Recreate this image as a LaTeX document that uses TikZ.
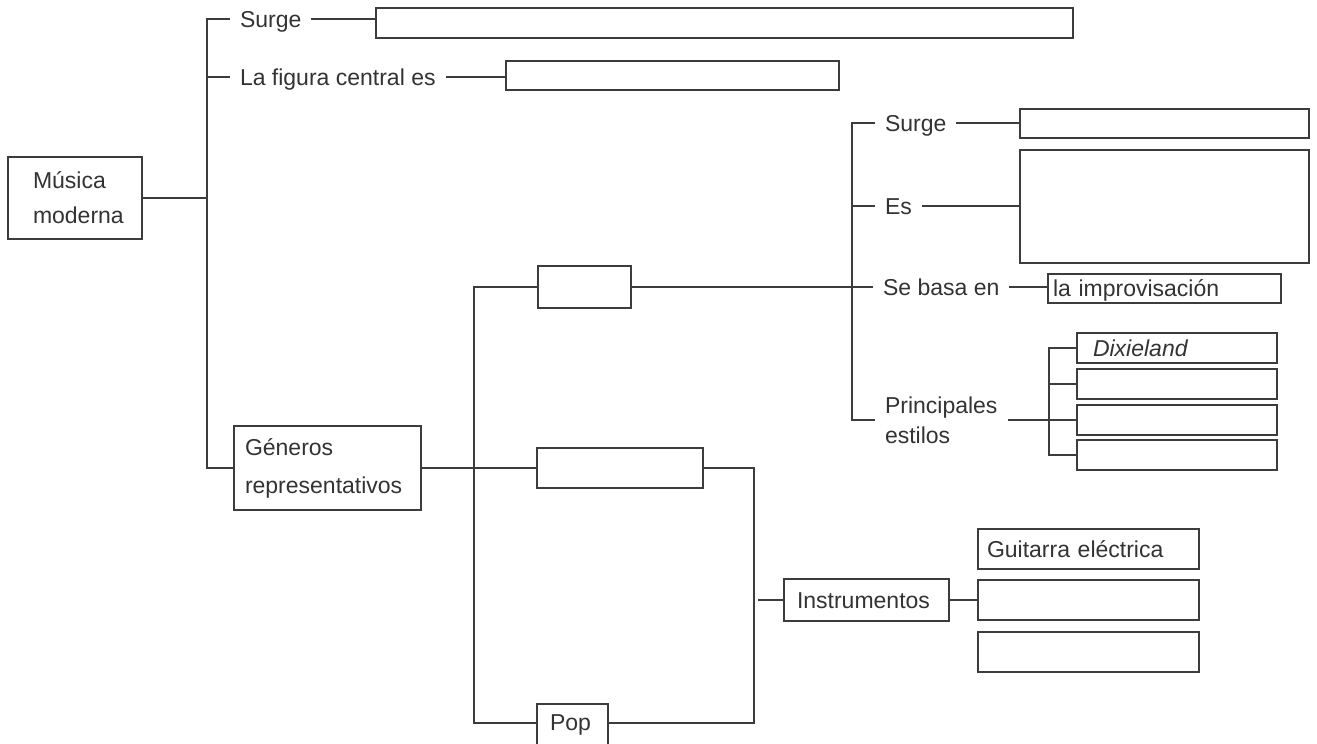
\documentclass[tikz,border=0pt]{standalone}
\usepackage{fontspec}
\setmainfont{Liberation Sans}
\definecolor{lc}{HTML}{3C3C3C}
\definecolor{tc}{HTML}{333333}
\tikzset{
  ln/.style={draw=lc, line width=1.4pt},
  emptybox/.style={draw=lc, line width=1.4pt, rectangle, inner sep=0pt, outer sep=0pt, anchor=north west},
  tbox/.style={emptybox, text=tc, align=left, text height=16.5pt, text depth=0pt},
  mbox/.style={emptybox, text=tc, align=left},
  lbl/.style={inner xsep=10pt, inner ysep=0pt, outer sep=0pt, text=tc, text height=16.5pt, text depth=0pt, anchor=west},
  lbltwo/.style={inner xsep=10pt, inner ysep=0pt, outer sep=0pt, text=tc, align=left, anchor=west},
}
\begin{document}
\begin{tikzpicture}[x=1pt, y=-1pt, font=\fontsize{23}{27.6}\selectfont]
\useasboundingbox (0,0) rectangle (1317,744);
\fill[white] (0,0) rectangle (1317,744);

% root
\node[mbox, minimum width=134pt, minimum height=82pt, text width=84pt, inner xsep=25pt, font=\fontsize{23}{35}\selectfont] (musica) at (8,157) {Música\\moderna};

% top branch
\node[lbl] (s1) at (230,19) {Surge};
\node[emptybox, minimum width=697pt, minimum height=30pt] (top1) at (376,8) {};
\node[lbl] (fig) at (230,77) {La figura central es};
\node[emptybox, minimum width=333pt, minimum height=29pt] (figbox) at (506,61) {};

% generos
\node[mbox, minimum width=187pt, minimum height=84pt, text width=165pt, inner xsep=11pt, font=\fontsize{23}{38}\selectfont] (gen) at (234,426) {Géneros\\representativos};

\node[emptybox, minimum width=93pt, minimum height=42pt] (jazz) at (538,266) {};
\node[emptybox, minimum width=166pt, minimum height=40pt] (rock) at (537,448) {};
\node[tbox, minimum width=71pt, minimum height=46pt, text width=45pt, inner xsep=13pt, text depth=10.5pt] (pop) at (537,704) {Pop};

% instrumentos
\node[tbox, minimum width=165pt, minimum height=42pt, text width=139pt, inner xsep=13pt] (ins) at (784,579) {Instrumentos};
\node[tbox, minimum width=221pt, minimum height=40pt, text width=203pt, inner xsep=9pt] (g1) at (978,529) {Guitarra eléctrica};
\node[emptybox, minimum width=221pt, minimum height=40pt] (g2) at (978,580) {};
\node[emptybox, minimum width=221pt, minimum height=40pt] (g3) at (978,632) {};

% jazz details
\node[lbl] (s2) at (875,123) {Surge};
\node[emptybox, minimum width=289pt, minimum height=29pt] (sbox) at (1020,109) {};
\node[lbl] (es) at (875,206) {Es};
\node[emptybox, minimum width=289pt, minimum height=113pt] (esbox) at (1020,150) {};
\node[lbl] (seb) at (873,287) {Se basa en};
\node[tbox, minimum width=233pt, minimum height=29pt, text width=223pt, inner xsep=5pt] (imp) at (1048,274) {la improvisación};
\node[lbltwo, font=\fontsize{23}{30}\selectfont] (prin) at (875,420) {Principales\\estilos};
\node[tbox, minimum width=200pt, minimum height=30pt, text width=168pt, inner xsep=16pt, font=\fontsize{23}{27.6}\selectfont\itshape] (d1) at (1077,333) {Dixieland};
\node[emptybox, minimum width=200pt, minimum height=30pt] (d2) at (1077,369) {};
\node[emptybox, minimum width=200pt, minimum height=30pt] (d3) at (1077,405) {};
\node[emptybox, minimum width=200pt, minimum height=30pt] (d4) at (1077,440) {};

% coordinates
\coordinate (bt) at (207,19);
\coordinate (v2t) at (474,287);
\coordinate (v2b) at (474,723);
\coordinate (v3t) at (754,468);
\coordinate (v3b) at (754,723);
\coordinate (it) at (758,600);
\coordinate (j1) at (852,123);
\coordinate (j4) at (852,420);
\coordinate (br) at (1049,348);

% connectors
\draw[ln] (s1.west) -- (bt) -- (bt |- gen.west) -- (gen.west);
\draw[ln] (fig.west) -- (fig.west -| bt);
\draw[ln] (musica.east) -- (musica.east -| bt);
\draw[ln] (s1.east) -- (s1.east -| top1.west);
\draw[ln] (fig.east) -- (fig.east -| figbox.west);
\draw[ln] (gen.east) -- (gen.east -| rock.west);
\draw[ln] (jazz.west) -- (v2t) -- (v2b) -- (pop.west |- v2b);
\draw[ln] (rock.east) -- (v3t) -- (v3b) -- (pop.east |- v3b);
\draw[ln] (it) -- (ins.west);
\draw[ln] (ins.east) -- (ins.east -| g2.west);
\draw[ln] (jazz.east) -- (seb.west);
\draw[ln] (s2.west) -- (j1) -- (j4) -- (prin.west);
\draw[ln] (es.west) -- (es.west -| j1);
\draw[ln] (s2.east) -- (s2.east -| sbox.west);
\draw[ln] (es.east) -- (es.east -| esbox.west);
\draw[ln] (seb.east) -- (seb.east -| imp.west);
\draw[ln] (prin.east) -- (prin.east -| d3.west);
\draw[ln] (d1.west) -- (br) |- (d4.west);
\draw[ln] (d2.west) -- (d2.west -| br);
\end{tikzpicture}
\end{document}
